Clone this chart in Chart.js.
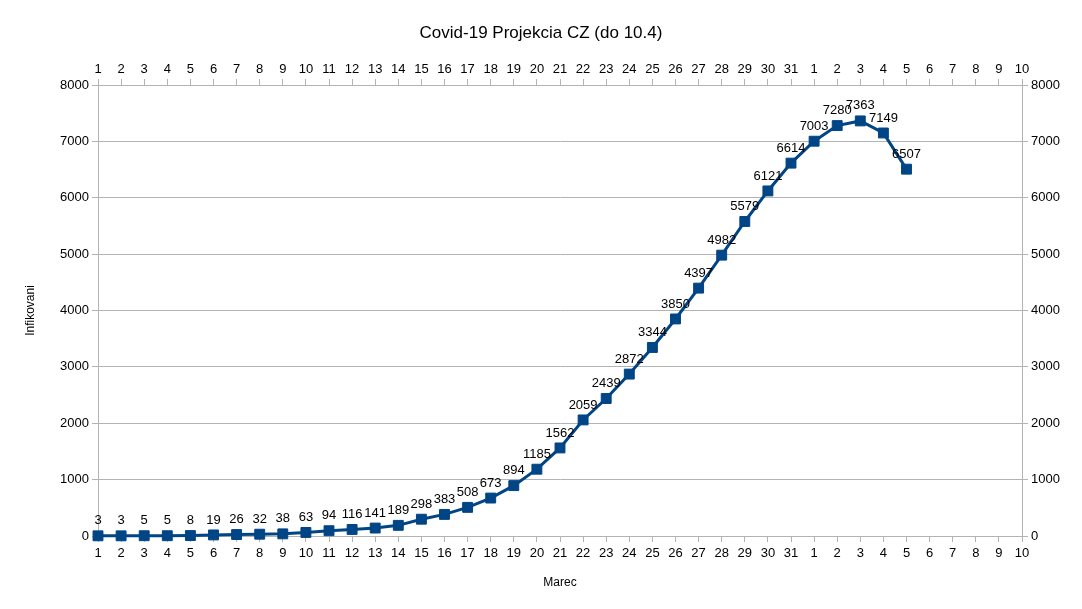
<!DOCTYPE html>
<html>
<head>
<meta charset="utf-8">
<title>Covid-19 Projekcia CZ</title>
<script src="https://cdn.jsdelivr.net/npm/chart.js@4.4.1/dist/chart.umd.min.js"></script>
<style>
  html, body { margin: 0; padding: 0; background: #fff; }
  .wrap { width: 1082px; height: 609px; position: relative; }
</style>
</head>
<body>
<div class="wrap"><canvas id="chart"></canvas></div>
<script>
// March 1..31, then April 1..10
const marchDays = Array.from({ length: 31 }, (_, i) => String(i + 1));
const aprilDays = ["1", "2", "3", "4", "5", "6", "7", "8", "9", "10"];
const dayLabels = marchDays.concat(aprilDays);

const infected = [
  3, 3, 5, 5, 8, 19, 26, 32, 38, 63,
  94, 116, 141, 189, 298, 383, 508, 673, 894, 1185,
  1562, 2059, 2439, 2872, 3344, 3850, 4397, 4982, 5579, 6121,
  6614,
  7003, 7280, 7363, 7149, 6507
];

const yMin = 0;
const yMax = 8000;
const yStep = 1000;

const lineColor = "#004586";
const axisColor = "#b3b3b3";
const textColor = "#000000";
const fontFamily = "'Liberation Sans', Arial, sans-serif";

const tickFont = { family: fontFamily, size: 13 };

// value labels above every point
const pointLabels = {
  id: "pointLabels",
  afterDatasetsDraw(chart) {
    const { ctx } = chart;
    const meta = chart.getDatasetMeta(0);
    ctx.save();
    ctx.font = `13px ${fontFamily}`;
    ctx.fillStyle = textColor;
    ctx.textAlign = "center";
    ctx.textBaseline = "middle";
    meta.data.forEach((point, i) => {
      ctx.fillText(String(infected[i]), point.x, point.y - 15);
    });
    ctx.restore();
  }
};

function fixWidth(width) {
  return (scale) => { scale.width = width; };
}

function fixHeight(height) {
  return (scale) => { scale.height = height; };
}

const plainNumber = (value) => String(value);

new Chart(document.querySelector("#chart"), {
  type: "line",
  data: {
    labels: dayLabels,
    datasets: [
      {
        label: "Infikovani",
        data: infected,
        borderColor: lineColor,
        backgroundColor: lineColor,
        borderWidth: 3,
        pointStyle: "rect",
        pointRadius: 7,
        pointBorderWidth: 1,
        pointBackgroundColor: lineColor,
        pointBorderColor: lineColor,
        tension: 0,
        clip: false,
        xAxisID: "x",
        yAxisID: "y"
      }
    ]
  },
  options: {
    responsive: true,
    maintainAspectRatio: false,
    animation: false,
    layout: { padding: 0 },
    plugins: {
      legend: { display: false },
      tooltip: { enabled: false },
      title: {
        display: true,
        text: "Covid-19 Projekcia CZ (do 10.4)",
        color: textColor,
        font: { family: fontFamily, size: 17, weight: "normal" },
        padding: { top: 23, bottom: 0 }
      }
    },
    scales: {
      x: {
        type: "category",
        position: "bottom",
        offset: false,
        afterFit: fixHeight(73),
        grid: { drawOnChartArea: false, drawTicks: true, tickLength: 6, color: axisColor },
        border: { display: true, color: axisColor },
        ticks: { color: textColor, font: tickFont, padding: 4, autoSkip: false, maxRotation: 0 },
        title: {
          display: true,
          text: "Marec",
          color: textColor,
          font: { family: fontFamily, size: 12 },
          padding: { top: 0, bottom: 19 }
        }
      },
      x2: {
        type: "category",
        position: "top",
        offset: false,
        afterFit: fixHeight(41.6),
        grid: { drawOnChartArea: false, drawTicks: true, tickLength: 6, color: axisColor },
        border: { display: true, color: axisColor },
        ticks: { color: textColor, font: tickFont, padding: 2, autoSkip: false, maxRotation: 0 }
      },
      y: {
        position: "left",
        min: yMin,
        max: yMax,
        afterFit: fixWidth(98),
        grid: { drawOnChartArea: true, drawTicks: true, tickLength: 6, color: axisColor },
        border: { display: true, color: axisColor },
        ticks: { stepSize: yStep, color: textColor, font: tickFont, padding: 3, callback: plainNumber },
        title: {
          display: true,
          text: "Infikovani",
          color: textColor,
          font: { family: fontFamily, size: 12 },
          padding: { top: 23, bottom: 0 }
        }
      },
      y2: {
        position: "right",
        min: yMin,
        max: yMax,
        afterFit: fixWidth(60),
        grid: { drawOnChartArea: false, drawTicks: true, tickLength: 6, color: axisColor },
        border: { display: true, color: axisColor },
        ticks: { stepSize: yStep, color: textColor, font: tickFont, padding: 3, callback: plainNumber }
      }
    }
  },
  plugins: [pointLabels]
});
</script>
</body>
</html>
